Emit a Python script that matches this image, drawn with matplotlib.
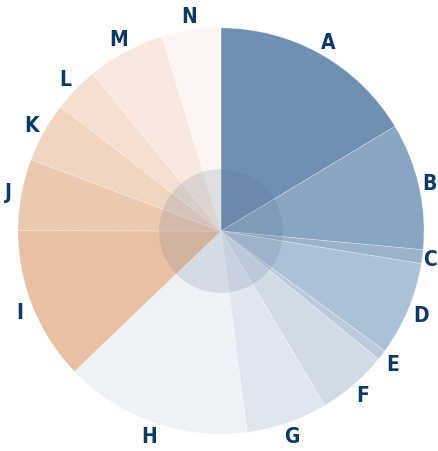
import matplotlib
matplotlib.use("Agg")
import matplotlib.pyplot as plt
from matplotlib.patches import Circle

# slice labels and shares (percent)
labels = ["A", "B", "C", "D", "E", "F", "G", "H", "I", "J", "K", "L", "M", "N"]
values = [16.4, 10.1, 1.1, 7.5, 0.8, 5.6, 6.5, 14.9, 12.2, 5.7, 4.8, 3.6, 6.2, 4.7]
colors = ["#6f8fb3", "#8aa5c1", "#9cb2ca", "#adc1d6", "#bccbdc", "#d0dbe6",
          "#dfe6ef", "#eef2f6", "#e9c1a2", "#ecc9ae", "#f0d5c1", "#f4dfd0",
          "#f8e9e0", "#fcf5f1"]

fig = plt.figure(figsize=(4.38, 4.52), dpi=100)
ax = fig.add_axes([0, 0, 1, 1])

wedges, texts = ax.pie(values, labels=labels, colors=colors, startangle=90,
                       counterclock=False, radius=1.0, labeldistance=1.07,
                       wedgeprops=dict(edgecolor=(1, 1, 1, 0.35), linewidth=0.5),
                       textprops=dict(color="#0b3a66", fontsize=15, fontweight="bold",
                                      fontstretch="condensed", family="DejaVu Sans"))
for t in texts:
    t.set_horizontalalignment("center")
    t.set_verticalalignment("center")

# translucent hub in the middle
ax.add_patch(Circle((0, 0), 0.305, facecolor=(0.33, 0.43, 0.58, 0.17),
                    edgecolor="none", zorder=5))

ax.set_aspect("equal")
# pie centre at (221, 232) px, radius ~203 px
ax.set_xlim(-221 / 203, (438 - 221) / 203)
ax.set_ylim(-(452 - 232) / 203, 232 / 203)
ax.axis("off")

# keep labels inside the right edge (B and C sit right at the border)
fig.canvas.draw()
r = fig.canvas.get_renderer()
for t in texts:
    bb = t.get_window_extent(r)
    over = bb.x1 - (fig.bbox.width - 1)
    if over > 0:
        x, y = t.get_position()
        t.set_position((x - over / 203, y))

fig.savefig("out.png", dpi=100)
